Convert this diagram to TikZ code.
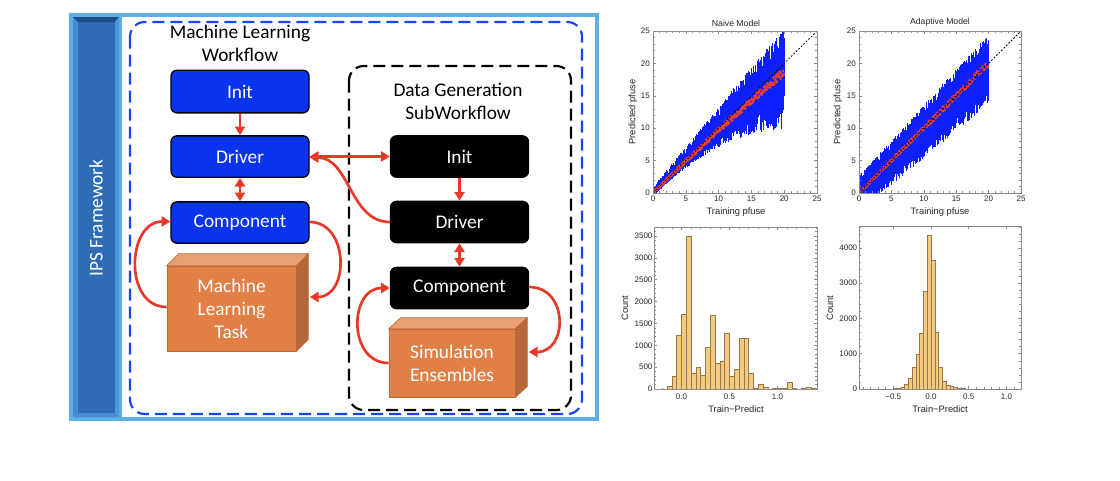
\documentclass[tikz,border=0pt]{standalone}
\usepackage{fontspec}
\newfontfamily\carl{Carlito}
\newfontfamily\arl{Liberation Sans}
\usetikzlibrary{arrows.meta,calc}
\definecolor{framelb}{RGB}{92,176,230}
\definecolor{barface}{RGB}{46,108,182}
\definecolor{bevlight}{RGB}{70,140,210}
\definecolor{bevdark}{RGB}{30,78,138}
\definecolor{bevright}{RGB}{80,150,215}
\definecolor{mlblue}{RGB}{8,52,240}
\definecolor{dashblue}{RGB}{20,70,240}
\definecolor{arrred}{RGB}{232,56,40}
\definecolor{cubeF}{RGB}{224,128,70}
\definecolor{cubeT}{RGB}{233,160,112}
\definecolor{cubeS}{RGB}{182,104,58}
\definecolor{cubeE}{RGB}{190,105,55}
\definecolor{plotblue}{RGB}{12,32,255}
\definecolor{plotred}{RGB}{236,62,42}
\definecolor{barfill}{RGB}{245,202,125}
\definecolor{baredge}{RGB}{150,118,78}
\definecolor{frameg}{RGB}{140,140,140}
\tikzset{
  mlbox/.style={rectangle, rounded corners=4.5pt, draw=black, line width=1pt, fill=mlblue, text=white,
    font=\carl\fontsize{14.5}{16}\selectfont, minimum width=103.5pt, minimum height=31pt, inner sep=0pt},
  dgbox/.style={mlbox, fill=black},
  ttl/.style={font=\carl\fontsize{14.5}{17.25}\selectfont, align=center, text=black, inner sep=0pt},
  cubebox/.style={rectangle, draw=cubeE, line width=0.5pt, fill=cubeF, text=white,
    font=\carl\fontsize{14.5}{17.25}\selectfont, align=center, inner sep=0pt},
  cubeface/.style={draw=cubeE, line width=0.5pt},
  rarr/.style={draw=arrred, line width=2pt, -{Triangle[length=6.5pt,width=7.5pt]}},
  rarrtwo/.style={draw=arrred, line width=2pt, {Triangle[length=6.5pt,width=7.5pt]}-{Triangle[length=6.5pt,width=7.5pt]}},
  tlab/.style={font=\arl\fontsize{6}{7}\selectfont, inner sep=0pt, text=black!85},
  alab/.style={font=\arl\fontsize{7}{8}\selectfont, inner sep=0pt, text=black!85},
  ptitle/.style={font=\arl\fontsize{6.5}{8}\selectfont, inner sep=0pt, text=black!85},
  frm/.style={draw=frameg, line width=0.5pt},
  tck/.style={draw=frameg, line width=0.4pt},
  hbar/.style={fill=barfill, draw=baredge, line width=0.35pt},
}
\begin{document}
\begin{tikzpicture}[x=0.75pt,y=-0.75pt]
\useasboundingbox (0,0) rectangle (1120,480);
\fill[white] (0,0) rectangle (1120,480);

% ---------- IPS frame ----------
\fill[framelb] (69,13) rectangle (599,421);
\fill[white] (122,17) rectangle (595,417);
\fill[barface] (78,22) rectangle (115,413);
\fill[bevlight] (73,17) -- (78,22) -- (78,413) -- (73,417) -- cycle;
\fill[bevdark] (73,17) -- (119,17) -- (115,22) -- (78,22) -- cycle;
\fill[bevright] (119,17) -- (119,417) -- (115,413) -- (115,22) -- cycle;
\fill[bevlight] (73,417) -- (78,413) -- (115,413) -- (119,417) -- cycle;
\node[rotate=90, text=white, font=\carl\fontsize{14.5}{16}\selectfont, inner sep=0pt] (ips) at (96,218) {IPS Framework};

% ---------- dashed containers ----------
\draw[dashblue, line width=1.6pt, dash pattern=on 9pt off 4.5pt, rounded corners=11pt] (130,22) rectangle (582,414);
\draw[black, line width=1.6pt, dash pattern=on 9pt off 4.5pt, rounded corners=11pt] (349,66) rectangle (571,410);

\node[ttl] (mltitle) at (240,43) {Machine Learning\\Workflow};
\node[ttl] (dgtitle) at (458,101) {Data Generation\\SubWorkflow};

% ---------- boxes ----------
\node[mlbox, minimum height=32pt] (mlinit) at (240,91.5) {Init};
\node[mlbox] (mldriver) at (240,156.5) {Driver};
\node[mlbox] (mlcomp) at (240,222.5) {Component};
\node[dgbox] (dginit) at (459.5,156.5) {Init};
\node[dgbox] (dgdriver) at (459.5,222) {Driver};
\node[dgbox] (dgcomp) at (459.5,288) {Component};

% ---------- cubes ----------
\node[cubebox, minimum width=96.75pt, minimum height=63.75pt] (mltask) at (231.5,308.5) {Machine\\Learning\\Task};
\fill[cubeT, cubeface] (mltask.north west) -- ++(12,-12) -- ($(mltask.north east)+(12,-12)$) -- (mltask.north east) -- cycle;
\fill[cubeS, cubeface] (mltask.north east) -- ++(12,-12) -- ($(mltask.south east)+(12,-12)$) -- (mltask.south east) -- cycle;

\node[cubebox, minimum width=94.5pt, minimum height=51pt] (sim) at (452,363) {Simulation\\Ensembles};
\fill[cubeT, cubeface] (sim.north west) -- ++(12,-11) -- ($(sim.north east)+(12,-11)$) -- (sim.north east) -- cycle;
\fill[cubeS, cubeface] (sim.north east) -- ++(12,-11) -- ($(sim.south east)+(12,-11)$) -- (sim.south east) -- cycle;

% ---------- arrows ----------
\draw[rarr] (mlinit) -- (mldriver);
\draw[rarrtwo] (mldriver) -- (mlcomp);
\draw[rarr] (dginit) -- (dgdriver);
\draw[rarrtwo] (dgdriver) -- (dgcomp);
\draw[rarrtwo] (mldriver.east) -- (dginit.west);
\draw[rarr] (dgdriver.west) to[out=180,in=0] ($(mldriver.east)+(0,1)$);
\draw[rarr] ($(mltask.west)+(0,-1.5)$) to[out=180,in=180,looseness=1.3] ($(mlcomp.west)+(0,-1)$);
\draw[rarr] ($(mlcomp.east)+(0,-0.5)$) to[out=0,in=0,looseness=1.35] ($(mltask.east)+(13.5,-11.5)$);
\draw[rarr] ($(sim.west)+(0,0)$) to[out=180,in=180,looseness=1.4] ($(dgcomp.west)+(0,0)$);
\draw[rarr] ($(dgcomp.east)+(0,-1)$) to[out=0,in=0,looseness=1.55] ($(sim.east)+(13.5,-11)$);

% ---------- scatter plots ----------
\pgfmathsetseed{4242}
% Naive
\begin{scope}[shift={(653,193)}, x=4.92pt, y=4.86pt]
  \begin{scope}
    \clip (0,0) rectangle (25,25);
    \foreach \i in {0,...,399}{
      \pgfmathsetmacro\xx{\i/20}
      \pgfmathsetmacro\up{\xx+(0.9+0.2*\xx)*(0.5+0.65*rnd)}
      \pgfmathsetmacro\lo{\xx-(0.5+0.022*\xx*\xx)*(0.5+0.6*rnd)}
      \draw[plotblue, line width=0.35pt] (\xx,\lo) -- (\xx,\up);
    }
    \foreach \i in {0,...,299}{
      \pgfmathsetmacro\xx{\i/15}
      \pgfmathsetmacro\yy{\xx-0.00325*\xx*\xx+(0.15+0.025*\xx)*(rnd-0.5)*2}
      \fill[plotred] (\xx,\yy) circle[radius=0.22];
    }
    \draw[black, line width=0.6pt, dash pattern=on 1.3pt off 1.3pt] (0,0) -- (25,25);
  \end{scope}
  \draw[frm] (0,0) rectangle (25,25);
  \foreach \t in {1,...,24}{
    \draw[tck] (\t,0) -- (\t,0.25); \draw[tck] (\t,25) -- (\t,24.75);
    \draw[tck] (0,\t) -- (0.25,\t); \draw[tck] (25,\t) -- (24.75,\t);
  }
  \foreach \t in {0,5,...,25}{
    \draw[tck] (\t,0) -- (\t,0.5); \draw[tck] (\t,25) -- (\t,24.5);
    \draw[tck] (0,\t) -- (0.5,\t); \draw[tck] (25,\t) -- (24.5,\t);
    \node[tlab, anchor=north] (pax\t) at (\t,-0.45) {\t};
    \node[tlab, anchor=east] (pay\t) at (-0.45,\t) {\t};
  }
\end{scope}
\node[ptitle] (ptitleA) at (736,23) {Naive Model};
\node[alab] (pxlabA) at (736,212) {Training pfuse};
\node[alab, rotate=90] (pylabA) at (633,112) {Predicted pfuse};

% Adaptive
\begin{scope}[shift={(859,193)}, x=4.86pt, y=4.86pt]
  \begin{scope}
    \clip (0,0) rectangle (25,25);
    \foreach \i in {0,...,399}{
      \pgfmathsetmacro\xx{\i/20}
      \pgfmathsetmacro\up{\xx+(2.4+0.08*\xx)*(0.55+0.6*rnd)}
      \pgfmathsetmacro\lo{\xx-(2.5+0.15*\xx)*(0.55+0.6*rnd)}
      \draw[plotblue, line width=0.35pt] (\xx,\lo) -- (\xx,\up);
    }
    \foreach \i in {0,...,299}{
      \pgfmathsetmacro\xx{\i/15}
      \pgfmathsetmacro\yy{\xx+(0.2+0.02*\xx)*(rnd-0.5)*2}
      \fill[plotred] (\xx,\yy) circle[radius=0.17];
    }
    \draw[black, line width=0.6pt, dash pattern=on 1.3pt off 1.3pt] (0,0) -- (25,25);
  \end{scope}
  \draw[frm] (0,0) rectangle (25,25);
  \foreach \t in {1,...,24}{
    \draw[tck] (\t,0) -- (\t,0.25); \draw[tck] (\t,25) -- (\t,24.75);
    \draw[tck] (0,\t) -- (0.25,\t); \draw[tck] (25,\t) -- (24.75,\t);
  }
  \foreach \t in {0,5,...,25}{
    \draw[tck] (\t,0) -- (\t,0.5); \draw[tck] (\t,25) -- (\t,24.5);
    \draw[tck] (0,\t) -- (0.5,\t); \draw[tck] (25,\t) -- (24.5,\t);
    \node[tlab, anchor=north] (pbx\t) at (\t,-0.45) {\t};
    \node[tlab, anchor=east] (pby\t) at (-0.45,\t) {\t};
  }
\end{scope}
\node[ptitle] (ptitleB) at (940,22) {Adaptive Model};
\node[alab] (pxlabB) at (940,212) {Training pfuse};
\node[alab, rotate=90] (pylabB) at (838,112) {Predicted pfuse};

% ---------- histogram 1 ----------
\begin{scope}[shift={(681.5,389)}, x=72pt, y=0.03278pt]
  \foreach \l/\c in {-0.2/5,-0.15/60,-0.1/290,-0.05/1235,0/1700,0.05/3500,0.1/360,0.15/490,0.2/310,0.25/960,
      0.3/1680,0.35/600,0.4/640,0.45/1270,0.5/300,0.55/460,0.6/1160,0.65/1170,0.7/360,0.75/20,0.8/100,
      0.85/40,0.9/5,0.95/20,1.0/20,1.05/20,1.1/160,1.15/20,1.2/5,1.25/20,1.3/45,1.35/20}{
    \draw[hbar] (\l,0) rectangle ({\l+0.05},\c);
  }
  \draw[frm] (-0.286,0) rectangle (1.41,3706);
  \foreach \t in {-0.2,-0.1,0.1,0.2,0.3,0.4,0.6,0.7,0.8,0.9,1.1,1.2,1.3,1.4}{
    \draw[tck] (\t,0) -- (\t,34); \draw[tck] (\t,3706) -- (\t,3672);
  }
  \foreach \t in {0,0.5,1}{
    \draw[tck] (\t,0) -- (\t,69); \draw[tck] (\t,3706) -- (\t,3637);
  }
  \node[tlab, anchor=north] (hax0) at (0,-100) {0.0};
  \node[tlab, anchor=north] (hax1) at (0.5,-100) {0.5};
  \node[tlab, anchor=north] (hax2) at (1,-100) {1.0};
  \foreach \c in {100,200,...,3700}{
    \draw[tck] (-0.286,\c) -- (-0.27,\c); \draw[tck] (1.41,\c) -- (1.394,\c);
  }
  \foreach \c in {0,500,...,3500}{
    \draw[tck] (-0.286,\c) -- (-0.255,\c); \draw[tck] (1.41,\c) -- (1.379,\c);
    \node[tlab, anchor=east] (hay\c) at (-0.30,\c) {\c};
  }
\end{scope}
\node[alab, rotate=90] (hylabA) at (625,308) {Count};
\node[alab] (hxlabA) at (736,409) {Train−Predict};

% ---------- histogram 2 ----------
\begin{scope}[shift={(931,389)}, x=56.6pt, y=0.02644pt]
  \foreach \l/\c in {-0.5/8,-0.45/20,-0.4/50,-0.35/140,-0.3/300,-0.25/620,-0.2/990,-0.15/1570,-0.1/2760,-0.05/4370,
      0/3660,0.05/1600,0.1/620,0.15/230,0.2/120,0.25/75,0.3/40,0.35/20,0.4/10,0.45/6,0.5/4,0.55/3}{
    \draw[hbar] (\l,0) rectangle ({\l+0.05},\c);
  }
  \draw[frm] (-0.954,0) rectangle (1.192,4624);
  \foreach \t in {-0.9,-0.8,-0.7,-0.6,-0.4,-0.3,-0.2,-0.1,0.1,0.2,0.3,0.4,0.6,0.7,0.8,0.9,1.1}{
    \draw[tck] (\t,0) -- (\t,43); \draw[tck] (\t,4624) -- (\t,4581);
  }
  \foreach \t in {-0.5,0,0.5,1}{
    \draw[tck] (\t,0) -- (\t,85); \draw[tck] (\t,4624) -- (\t,4539);
  }
  \node[tlab, anchor=north] (hbx0) at (-0.5,-125) {−0.5};
  \node[tlab, anchor=north] (hbx1) at (0,-125) {0.0};
  \node[tlab, anchor=north] (hbx2) at (0.5,-125) {0.5};
  \node[tlab, anchor=north] (hbx3) at (1,-125) {1.0};
  \foreach \c in {200,400,...,4600}{
    \draw[tck] (-0.954,\c) -- (-0.934,\c); \draw[tck] (1.192,\c) -- (1.172,\c);
  }
  \foreach \c in {0,1000,...,4000}{
    \draw[tck] (-0.954,\c) -- (-0.914,\c); \draw[tck] (1.192,\c) -- (1.152,\c);
    \node[tlab, anchor=east] (hby\c) at (-0.975,\c) {\c};
  }
\end{scope}
\node[alab, rotate=90] (hylabB) at (830,308) {Count};
\node[alab] (hxlabB) at (940,409) {Train−Predict};
\end{tikzpicture}
\end{document}
